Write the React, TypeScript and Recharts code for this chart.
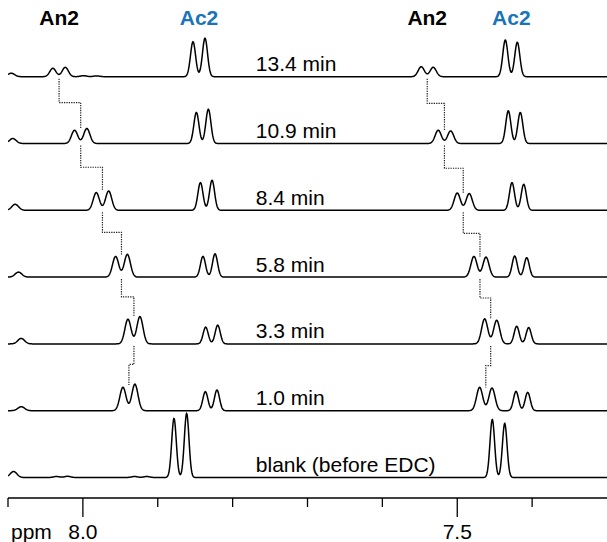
import React from 'react';
import { LineChart, Line, XAxis, YAxis, ReferenceDot } from 'recharts';

const spectrumLabels = ['13.4 min', '10.9 min', '8.4 min', '5.8 min', '3.3 min', '1.0 min', 'blank (before EDC)'];

// peak centres (ppm) and heights (a.u.), top spectrum first
const an2LeftPpm = [[8.0401, 8.0235], [8.0111, 7.9947], [7.9821, 7.9656], [7.9563, 7.9406], [7.9398, 7.9238], [7.9465, 7.9305]];
const an2LeftHeight = [[8.4, 9.4], [13.3, 15], [17.7, 19.3], [20.7, 22.7], [24.7, 27.3], [23.4, 25.7]];
const an2RightPpm = [[7.5481, 7.5321], [7.5254, 7.5088], [7.5, 7.484], [7.4777, 7.4616], [7.4634, 7.4473], [7.4701, 7.4536]];
const an2RightHeight = [[10, 9.4], [13.3, 12.6], [17.3, 16.7], [20.7, 20], [25, 23.6], [23.3, 22.7]];
const ac2LeftPpm = [[7.8529, 7.8369], [7.8484, 7.8324], [7.843, 7.8275], [7.8396, 7.8235], [7.836, 7.8199], [7.8364, 7.8209], [7.8783, 7.8614]];
const ac2LeftHeight = [[35, 38.4], [31, 34.3], [27.7, 30], [20.7, 23.3], [16.7, 18.7], [19, 20.7], [59, 64]];
const ac2RightPpm = [[7.4358, 7.4198], [7.4318, 7.4158], [7.4269, 7.4112], [7.4233, 7.4072], [7.4206, 7.4046], [7.4215, 7.4059], [7.4532, 7.4366]];
const ac2RightHeight = [[36.7, 34.4], [32.6, 31], [27.7, 26], [21, 19.4], [17.6, 16.3], [19.3, 18.3], [58, 54]];
const edgeBumpPpm = [8.0957, 8.0936, 8.0904, 8.086, 8.0824, 8.0824, 8.0926];
const edgeBumpHeight = [3.5, 5, 6, 5, 5.5, 4, 6];
const smallPeakPpm = [[7.9991, 7.9817], [], [], [], [], [7.9309], [8.0352, 8.0205, 7.9309, 7.9148]];
const smallPeakHeight = [[1, 0.8], [], [], [], [], [0.8], [1, 1.2, 1, 1]];

const xTicks = [8.1, 8.0, 7.9, 7.8, 7.7, 7.6, 7.5, 7.4];
const majorTicks = [8.0, 7.5];

// line widths (gaussian sigma, ppm)
const AN2_W = 0.0041;
const AC2_W = 0.0034;
const BLANK_W = 0.0031;
const BUMP_W = 0.0045;
const SMALL_W = 0.004;

// stacking
const BASE_LOW = 20.5;
const STEP = 66.8;
const Y_MAX = 498;
const LABEL_PPM = 7.769;
const FONT = '"Liberation Sans", Arial, Helvetica, sans-serif';
const AC2_BLUE = '#1a74b9';

const N = spectrumLabels.length;
const base = (i: number) => BASE_LOW + (N - 1 - i) * STEP;

const gauss = (x: number, c: number, h: number, w: number) => h * Math.exp(-((x - c) * (x - c)) / (2 * w * w));

function intensity(i: number, x: number) {
  let v = gauss(x, edgeBumpPpm[i], edgeBumpHeight[i], BUMP_W);
  const ac2W = i === N - 1 ? BLANK_W : AC2_W;
  for (let k = 0; k < 2; k++) {
    if (an2LeftPpm[i]) {
      v += gauss(x, an2LeftPpm[i][k], an2LeftHeight[i][k], AN2_W);
      v += gauss(x, an2RightPpm[i][k], an2RightHeight[i][k], AN2_W);
    }
    v += gauss(x, ac2LeftPpm[i][k], ac2LeftHeight[i][k], ac2W);
    v += gauss(x, ac2RightPpm[i][k], ac2RightHeight[i][k], ac2W);
  }
  smallPeakPpm[i].forEach((c, k) => {
    v += gauss(x, c, smallPeakHeight[i][k], SMALL_W);
  });
  return v;
}

const data: Record<string, number>[] = [];
for (let n = 0; n <= 1600; n++) {
  const ppm = 7.3 + n * 0.0005;
  const row: Record<string, number> = { ppm };
  for (let i = 0; i < N; i++) row['s' + i] = base(i) + intensity(i, ppm);
  data.push(row);
}

const mid = (d: number[]) => (d[0] + d[1]) / 2;

// dotted step lines joining the An2 doublets of neighbouring spectra
function connectors(ppms: number[][], heights: number[][]) {
  const out: { ppm: number; y: number }[][] = [];
  for (let i = 0; i < ppms.length - 1; i++) {
    const top = base(i + 1) + Math.max(...heights[i + 1]);
    const yMid = (base(i) + top) / 2;
    out.push([
      { ppm: mid(ppms[i]), y: base(i) - 2 },
      { ppm: mid(ppms[i]), y: yMid },
      { ppm: mid(ppms[i + 1]), y: yMid },
      { ppm: mid(ppms[i + 1]), y: top },
    ]);
  }
  return out;
}
const joinLines = [...connectors(an2LeftPpm, an2LeftHeight), ...connectors(an2RightPpm, an2RightHeight)];

const topLabels = [
  { ppm: mid(an2LeftPpm[0]), text: 'An2', color: '#000' },
  { ppm: mid(ac2LeftPpm[0]), text: 'Ac2', color: AC2_BLUE },
  { ppm: mid(an2RightPpm[0]), text: 'An2', color: '#000' },
  { ppm: mid(ac2RightPpm[0]), text: 'Ac2', color: AC2_BLUE },
];

const AxisTick = (props: any) => {
  const { x, y, payload } = props;
  const major = majorTicks.some((m) => Math.abs(m - payload.value) < 1e-6);
  return (
    <g>
      <line x1={x} x2={x} y1={y} y2={y + (major ? 19 : 9)} stroke="#000" strokeWidth={1.3} />
      {major && (
        <text x={x} y={y + 41} textAnchor="middle" fontSize={21} fontFamily={FONT} fill="#000">
          {payload.value.toFixed(1)}
        </text>
      )}
      {major && payload.value > 7.9 && (
        <text x={x - 31} y={y + 41} textAnchor="end" fontSize={21} fontFamily={FONT} fill="#000">
          ppm
        </text>
      )}
    </g>
  );
};

export default function App() {
  return (
    <div style={{ position: 'absolute', left: 0, top: 0, background: '#fff' }}>
      <LineChart width={607} height={542} data={data} margin={{ top: 0, right: 0, bottom: 0, left: 8 }}>
        <XAxis
          dataKey="ppm"
          type="number"
          domain={[7.3, 8.1]}
          reversed
          allowDataOverflow
          ticks={xTicks}
          interval={0}
          height={44}
          tickSize={0}
          tickMargin={0}
          tickLine={false}
          axisLine={{ stroke: '#000', strokeWidth: 1.3 }}
          tick={<AxisTick />}
        />
        <YAxis hide type="number" domain={[0, Y_MAX]} allowDataOverflow />
        {spectrumLabels.map((_, i) => (
          <Line
            key={'s' + i}
            dataKey={'s' + i}
            type="linear"
            stroke="#000"
            strokeWidth={1.5}
            dot={false}
            activeDot={false}
            isAnimationActive={false}
          />
        ))}
        {joinLines.map((pts, k) => (
          <Line
            key={'j' + k}
            data={pts}
            dataKey="y"
            type="linear"
            stroke="#222"
            strokeWidth={1.2}
            strokeDasharray="1.3 1.1"
            dot={false}
            activeDot={false}
            isAnimationActive={false}
          />
        ))}
        {spectrumLabels.map((label, i) => (
          <ReferenceDot
            key={'l' + i}
            x={LABEL_PPM}
            y={base(i)}
            r={1}
            shape={(p: any) => (
              <text x={p.cx} y={p.cy - 5.5} fontSize={21} fontFamily={FONT} fill="#000">
                {label}
              </text>
            )}
          />
        ))}
        {topLabels.map((t, k) => (
          <ReferenceDot
            key={'t' + k}
            x={t.ppm}
            y={Y_MAX}
            r={1}
            shape={(p: any) => (
              <text x={p.cx} y={p.cy + 25} textAnchor="middle" fontSize={21} fontWeight="bold" fontFamily={FONT} fill={t.color}>
                {t.text}
              </text>
            )}
          />
        ))}
      </LineChart>
    </div>
  );
}
